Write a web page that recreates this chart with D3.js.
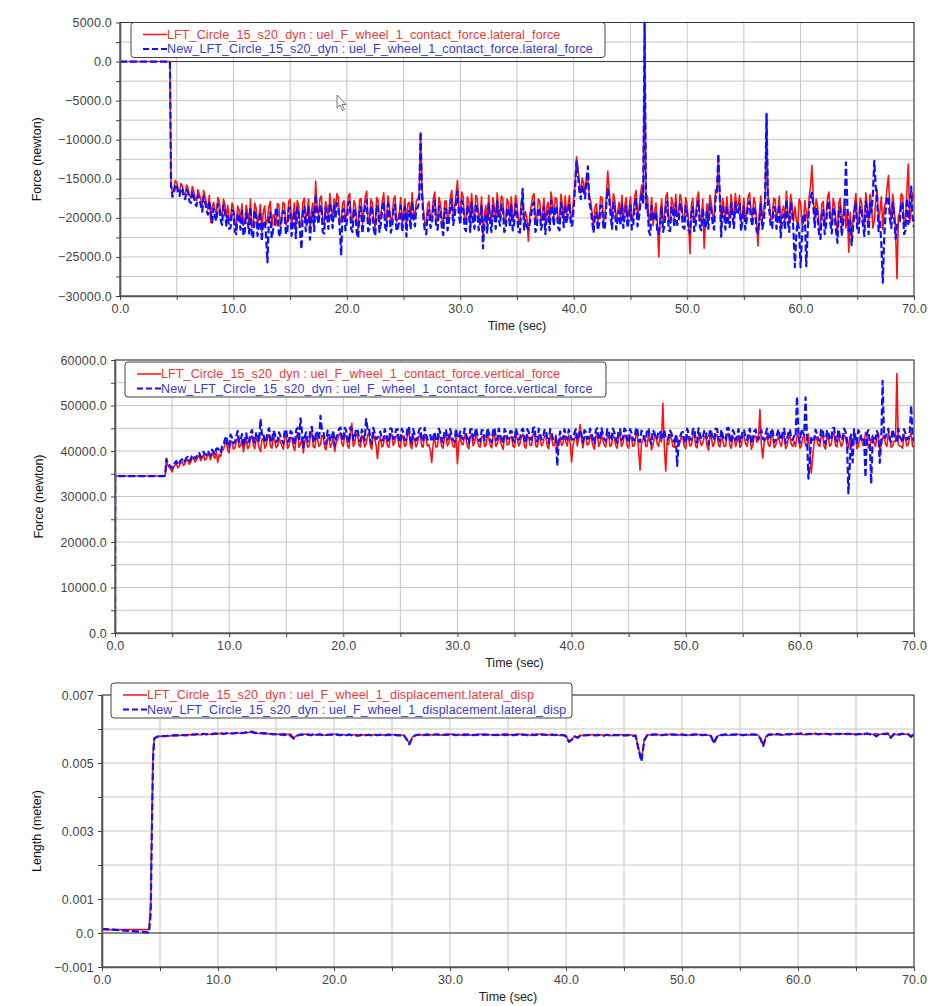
<!DOCTYPE html>
<html>
<head>
<meta charset="utf-8">
<script src="https://cdn.jsdelivr.net/npm/d3@7"></script>
<style>
  body { margin: 0; background: #fff; }
  svg { display: block; font-family: "Liberation Sans", Arial, sans-serif; }
</style>
</head>
<body>
<svg id="chart" width="935" height="1006"></svg>
<script>
// samples on a 0.25 s grid starting at 4.5 s (rows of 5 s),
// "Mid" arrays hold the readings half way between two grid samples
let sampleStart = 4.5, sampleStep = 0.25;

let timeMajor = [0, 10, 20, 30, 40, 50, 60, 70],
    timeMinor = [5, 15, 25, 35, 45, 55, 65];

// lateral force (kN)
let latPreTime = [0, 4.4],
    latPreRed = [0, 0],
    latPreBlue = [0, 0];
let latRed = [
  -15.6,-16.3,-15.5,-16.7,-15.9,-17.0,-16.2,-17.4,-16.6,-17.8,-17.0,-18.4,-17.3,-18.9,-20.6,-18.0,-19.5,-17.9,-19.8,-18.3,
  -18.4,-20.1,-18.7,-21.4,-19.0,-18.2,-20.6,-19.3,-17.6,-20.9,-18.8,-19.7,-21.8,-18.5,-20.2,-17.9,-19.6,-21.0,-18.3,-20.4,
  -18.2,-20.5,-17.6,-19.8,-21.2,-18.4,-20.9,-17.5,-19.3,-21.6,-18.1,-15.3,-19.7,-17.2,-20.8,-18.6,-16.9,-20.1,-18.8,-17.4,
  -20.6,-17.8,-19.4,-16.9,-20.7,-18.3,-21.5,-17.5,-19.0,-16.6,-20.3,-18.1,-21.2,-17.7,-19.6,-16.8,-20.5,-18.4,-19.9,-17.2,
  -20.2,-17.4,-19.1,-21.3,-18.0,-16.8,-20.0,-17.6,-9.1,-18.9,-21.0,-17.9,-19.6,-16.7,-20.4,-18.2,-21.1,-17.8,-19.4,-16.5,
  -18.7,-15.2,-19.8,-17.3,-20.6,-18.0,-16.9,-20.3,-17.6,-19.5,-22.5,-18.4,-17.1,-20.7,-18.6,-16.8,-19.9,-17.5,-20.4,-18.1,
  -17.3,-19.6,-18.2,-20.8,-17.0,-19.2,-23.0,-18.5,-16.9,-20.1,-17.8,-19.4,-21.0,-18.0,-16.7,-19.9,-17.6,-20.5,-18.3,-17.2,
  -18.3,-20.0,-17.5,-12.2,-15.6,-14.9,-16.8,-15.2,-17.9,-21.3,-18.2,-19.6,-17.4,-20.1,-14.0,-18.6,-16.9,-20.4,-18.0,-17.1,
  -18.5,-20.2,-17.3,-19.7,-16.5,-18.9,-15.8,5.0,-17.2,-19.5,-21.0,-18.1,-25.0,-17.6,-19.9,-16.8,-20.6,-18.2,-17.0,-19.4,
  -17.8,-20.3,-18.4,-24.6,-17.5,-19.8,-16.7,-20.5,-23.9,-18.2,-17.1,-19.6,-16.4,-12.5,-20.8,-18.6,-17.3,-20.1,-18.7,-16.9,
  -18.3,-20.6,-17.5,-19.2,-16.8,-20.0,-18.1,-23.6,-17.2,-19.4,-6.8,-18.0,-20.2,-17.6,-19.1,-21.4,-18.5,-16.6,-20.7,-18.2,
  -18.6,-21.0,-18.0,-20.7,-19.3,-17.4,-13.3,-20.1,-18.5,-21.6,-17.9,-19.8,-16.7,-20.9,-18.4,-22.1,-17.5,-19.7,-21.3,-24.4,
  -22.8,-18.4,-20.6,-17.5,-19.9,-16.8,-21.0,-18.2,-20.4,-16.4,-19.1,-21.5,-18.0,-14.6,-20.2,-18.7,-27.8,-19.4,-17.2,-20.5,
  -13.1,-19.0,-17.5
];
let latRedMid = [
  -16.8,-15.2,-16.4,-15.6,-16.9,-15.8,-17.2,-16.0,-17.5,-16.4,-17.6,-16.5,-18.2,-17.1,-18.6,-19.0,-17.4,-19.3,-17.6,-19.9,
  -20.3,-18.1,-20.6,-18.5,-20.4,-21.0,-18.4,-20.8,-21.2,-18.1,-21.0,-18.3,-19.4,-20.9,-18.6,-21.2,-19.8,-18.2,-21.1,-18.0,
  -20.9,-17.9,-21.0,-18.1,-17.8,-21.1,-18.0,-20.6,-17.6,-19.1,-20.4,-18.8,-17.5,-20.6,-17.9,-20.2,-18.7,-17.6,-16.9,-20.3,
  -18.1,-20.4,-17.2,-20.3,-17.8,-20.6,-17.7,-20.8,-17.3,-20.5,-17.6,-20.3,-17.4,-20.6,-17.8,-20.1,-17.2,-20.7,-17.6,-20.5,
  -19.3,-20.6,-17.6,-18.2,-20.3,-19.0,-17.8,-17.0,-16.0,-20.6,-18.3,-20.2,-17.5,-20.1,-17.4,-20.0,-17.9,-20.5,-17.3,-19.8,
  -17.0,-18.6,-16.7,-20.2,-17.3,-20.6,-19.4,-17.1,-20.5,-17.3,-19.6,-20.8,-19.3,-17.4,-20.3,-18.9,-17.2,-20.6,-17.6,-20.0,
  -20.4,-17.1,-20.5,-18.0,-20.4,-20.1,-19.6,-17.3,-20.6,-17.6,-20.4,-17.5,-18.6,-20.5,-18.1,-17.4,-20.2,-17.0,-20.1,-19.6,
  -17.1,-19.8,-15.4,-13.6,-16.8,-15.6,-14.8,-17.2,-19.4,-18.6,-20.5,-17.3,-20.4,-17.2,-16.4,-20.3,-17.8,-19.2,-19.9,-20.2,
  -17.4,-18.9,-20.4,-17.2,-20.0,-17.1,-17.4,-18.0,-20.6,-17.4,-19.2,-20.8,-19.5,-20.7,-17.3,-20.5,-17.4,-20.1,-19.8,-17.0,
  -20.1,-17.4,-20.5,-18.3,-20.6,-17.5,-20.1,-17.6,-20.2,-20.3,-18.0,-20.4,-16.8,-17.2,-17.5,-20.4,-19.5,-17.0,-20.2,-18.5,
  -17.1,-19.3,-20.4,-17.3,-19.0,-17.4,-20.6,-19.1,-20.3,-17.0,-17.2,-20.1,-17.5,-20.3,-17.2,-19.0,-20.4,-19.3,-17.0,-20.5,
  -20.2,-17.6,-20.9,-17.8,-20.5,-16.0,-17.5,-17.6,-21.0,-18.2,-21.0,-17.4,-19.6,-17.5,-20.6,-18.0,-21.2,-17.6,-19.0,-19.3,
  -20.1,-16.9,-20.8,-18.0,-21.2,-18.3,-17.0,-21.3,-17.8,-20.6,-17.3,-18.6,-16.2,-19.0,-17.0,-21.6,-19.7,-16.9,-21.0,-16.4,
  -20.6,-16.8
];
let latBlue = [
  -15.9,-16.8,-15.7,-17.2,-16.3,-17.6,-16.7,-18.1,-17.2,-18.5,-17.6,-19.2,-18.0,-19.6,-19.3,-18.8,-20.4,-18.7,-20.9,-19.2,
  -19.6,-21.3,-19.2,-22.1,-20.0,-19.1,-21.8,-20.2,-18.6,-22.4,-19.8,-20.9,-23.0,-20.4,-25.7,-19.3,-21.5,-18.7,-22.0,-19.9,
  -19.4,-21.8,-18.7,-20.9,-22.6,-19.5,-24.0,-18.6,-20.4,-22.8,-19.2,-17.0,-20.8,-18.4,-22.0,-19.7,-18.1,-21.3,-20.0,-18.6,
  -24.8,-18.9,-20.5,-17.9,-21.8,-19.4,-22.6,-18.6,-20.1,-17.7,-21.4,-19.2,-22.3,-18.8,-20.7,-17.9,-21.6,-19.5,-21.0,-18.3,
  -21.3,-18.5,-20.2,-22.4,-19.1,-17.9,-21.1,-18.7,-9.0,-20.0,-22.1,-19.0,-20.7,-17.8,-21.5,-19.3,-22.2,-18.9,-20.5,-17.6,
  -19.8,-16.6,-20.9,-18.4,-21.7,-19.1,-18.0,-21.4,-18.7,-20.6,-23.9,-19.5,-18.2,-21.8,-19.7,-17.9,-21.0,-18.6,-21.5,-19.2,
  -18.4,-20.7,-19.3,-21.9,-16.3,-20.3,-21.5,-19.6,-18.0,-21.2,-18.9,-20.5,-22.1,-19.1,-17.8,-21.0,-18.7,-21.6,-19.4,-18.3,
  -19.4,-21.1,-18.6,-12.8,-16.7,-15.8,-17.5,-13.4,-18.8,-21.9,-19.3,-20.7,-18.5,-21.2,-16.3,-19.7,-18.0,-21.5,-19.1,-18.2,
  -19.6,-21.3,-18.4,-20.8,-17.6,-20.0,-16.9,5.0,-18.3,-22.2,-20.1,-19.2,-22.0,-18.7,-21.0,-17.9,-21.7,-19.3,-18.1,-20.5,
  -18.9,-21.4,-19.5,-22.0,-18.6,-20.9,-17.8,-21.6,-20.5,-19.3,-18.2,-20.7,-17.5,-11.8,-22.4,-19.7,-18.4,-21.2,-19.8,-18.0,
  -19.4,-21.7,-18.6,-20.3,-17.9,-21.1,-19.2,-22.0,-18.3,-20.5,-6.7,-19.1,-21.3,-18.7,-20.2,-22.5,-19.6,-17.7,-21.8,-19.3,
  -26.3,-20.5,-26.3,-19.5,-26.2,-18.6,-16.8,-21.2,-19.6,-22.7,-19.0,-20.9,-17.8,-22.0,-19.5,-23.2,-18.6,-20.8,-12.9,-21.7,
  -23.5,-19.5,-21.7,-18.6,-21.0,-17.9,-22.1,-19.3,-12.7,-17.5,-20.2,-28.3,-19.1,-17.3,-21.3,-19.8,-20.9,-20.5,-18.3,-21.6,
  -20.8,-16.0,-21.2
];
let latBlueMid = [
  -17.3,-15.9,-16.9,-16.2,-17.5,-16.4,-17.9,-16.6,-18.2,-17.1,-18.4,-17.3,-19.0,-17.8,-20.6,-19.9,-18.2,-20.3,-18.4,-21.0,
  -21.4,-19.0,-21.7,-19.4,-21.5,-22.3,-19.4,-22.0,-22.6,-19.0,-22.3,-19.2,-20.5,-22.2,-20.1,-22.6,-20.8,-19.1,-22.4,-19.1,
  -22.1,-18.8,-22.3,-19.1,-18.7,-21.9,-19.2,-21.7,-18.5,-20.2,-21.7,-19.8,-18.6,-21.8,-18.7,-21.4,-19.6,-18.4,-18.1,-21.5,
  -19.0,-21.6,-18.1,-21.4,-18.8,-21.9,-18.6,-22.0,-18.2,-21.7,-18.5,-21.5,-18.4,-21.8,-18.7,-21.2,-18.2,-21.9,-18.6,-21.7,
  -20.4,-21.8,-18.6,-19.2,-21.5,-20.1,-18.8,-18.0,-17.0,-21.7,-19.4,-21.3,-18.6,-21.2,-18.5,-21.2,-18.8,-21.6,-18.4,-20.9,
  -18.1,-19.7,-17.8,-21.3,-18.4,-21.8,-20.5,-18.2,-21.6,-18.4,-20.7,-22.0,-20.4,-18.5,-21.4,-20.0,-18.3,-21.8,-18.7,-21.2,
  -21.6,-18.2,-21.7,-19.1,-21.5,-21.2,-20.7,-18.4,-21.8,-18.7,-21.5,-18.6,-19.7,-21.6,-19.2,-18.5,-21.3,-18.1,-21.2,-20.7,
  -18.2,-20.9,-16.0,-14.4,-17.6,-16.5,-15.2,-18.1,-20.5,-19.7,-21.6,-18.4,-21.5,-18.3,-17.5,-21.4,-18.9,-20.3,-21.0,-21.3,
  -18.5,-20.0,-21.5,-18.3,-21.1,-18.2,-18.3,-19.1,-21.7,-18.5,-20.3,-21.9,-20.6,-21.8,-18.4,-21.6,-18.5,-21.2,-20.9,-18.1,
  -21.2,-18.5,-21.6,-19.4,-21.7,-18.6,-21.2,-18.7,-21.3,-21.4,-19.1,-21.5,-16.5,-16.9,-18.6,-21.5,-20.6,-18.1,-21.3,-19.6,
  -18.2,-20.4,-21.5,-18.4,-20.1,-18.5,-21.7,-20.2,-21.4,-18.1,-18.3,-21.2,-18.6,-21.4,-18.3,-20.1,-21.5,-20.4,-18.1,-21.6,
  -22.0,-21.5,-22.4,-19.6,-21.8,-17.5,-18.6,-18.7,-22.1,-19.3,-22.1,-18.5,-20.7,-18.6,-21.7,-19.1,-22.3,-18.7,-18.4,-20.4,
  -21.2,-18.0,-21.9,-19.1,-22.3,-19.4,-18.1,-17.0,-16.0,-21.7,-23.5,-22.5,-17.3,-20.1,-18.1,-22.7,-20.8,-18.0,-22.1,-17.5,
  -18.4,-19.9
];
let latTicks = [5000, 0, -5000, -10000, -15000, -20000, -25000, -30000],
    latMinor = [2500, -2500, -7500, -12500, -17500, -22500, -27500];

// vertical force (kN)
let vertPreTime = [0, 0.02, 4.3, 4.4],
    vertPreRed = [0, 34.5, 34.5, 34.6],
    vertPreBlue = [0, 34.5, 34.5, 34.7];
let vertRed = [
  38.0,36.4,35.4,36.9,36.3,37.4,36.8,37.9,37.1,38.3,37.6,38.7,37.9,39.2,38.3,38.9,39.6,38.4,37.5,38.8,
  40.3,42.1,39.6,41.8,40.7,43.0,41.2,39.8,42.6,41.0,43.4,40.5,42.2,39.9,42.8,41.3,43.6,40.6,42.4,41.1,
  42.0,40.4,43.5,41.2,42.8,40.1,43.9,41.5,39.6,42.9,41.0,44.1,40.7,42.5,41.4,43.2,40.3,42.7,41.6,39.9,
  42.4,44.1,41.0,43.3,40.6,46.1,41.8,43.5,40.9,42.7,41.5,44.0,40.4,42.8,38.3,43.1,41.2,42.6,40.8,43.7,
  41.9,43.6,40.7,42.9,41.3,44.2,40.5,42.4,41.7,43.8,40.9,42.6,41.4,37.5,43.0,41.1,42.8,40.6,43.4,41.8,
  42.2,40.8,37.2,43.1,41.4,42.7,40.5,43.6,41.9,42.4,40.9,43.3,41.2,42.8,40.7,43.9,41.6,42.3,40.4,43.0,
  41.5,43.2,40.8,42.6,41.9,43.7,40.6,42.9,41.3,44.0,40.9,42.4,41.7,43.5,40.5,42.8,41.2,40.3,43.1,41.6,
  42.0,43.5,37.6,42.8,41.1,45.8,40.7,43.0,41.5,42.6,40.4,43.8,41.8,42.3,40.9,43.4,41.3,42.9,40.6,43.6,
  41.7,43.3,40.6,42.8,41.2,44.0,35.8,42.5,41.0,43.6,40.3,42.9,41.6,43.1,50.5,35.6,41.4,42.7,40.8,43.2,
  41.9,43.0,40.5,42.6,41.3,43.8,40.7,42.4,41.8,43.3,40.2,42.9,41.5,43.6,40.9,42.2,41.1,43.9,40.6,42.7,
  42.3,40.8,43.5,41.6,42.9,40.4,43.2,41.9,49.1,38.5,42.6,41.3,43.7,40.7,42.4,41.8,43.0,40.5,42.8,41.4,
  42.1,43.4,40.6,42.9,41.2,43.7,35.2,41.8,42.5,41.0,43.3,40.4,42.7,41.5,43.9,40.9,42.2,41.6,43.1,40.7,
  42.0,43.6,40.5,42.8,41.3,44.1,40.7,42.4,41.8,43.2,40.3,42.9,41.5,43.7,40.8,42.2,57.0,41.1,40.6,42.7,
  41.5,43.8,40.9
];
let vertRedMid = [
  36.8,36.0,36.5,37.2,36.7,37.6,37.2,38.1,37.5,38.5,37.9,38.9,38.4,38.0,39.4,38.1,39.0,39.7,39.2,40.1,
  41.5,40.2,42.3,40.4,42.1,40.8,42.5,41.4,40.5,42.7,41.2,42.8,40.7,42.6,40.6,42.9,41.0,43.1,40.7,42.8,
  41.1,43.2,40.6,43.0,40.9,43.1,40.8,43.0,42.2,40.8,43.3,40.9,43.0,41.0,43.4,40.7,43.0,40.8,43.2,41.8,
  43.5,41.6,43.7,41.2,43.9,41.0,43.6,41.3,43.4,40.9,43.5,41.1,43.9,41.2,42.0,40.9,43.4,41.1,43.6,41.2,
  43.3,41.1,43.5,41.0,43.6,41.2,43.4,40.9,43.2,41.0,43.7,41.1,40.2,41.6,40.8,43.5,41.0,43.2,41.1,43.4,
  41.0,43.6,41.8,41.5,43.5,41.0,43.3,41.1,43.7,41.0,43.2,41.0,43.6,41.2,43.1,41.0,43.5,41.2,43.4,41.3,
  43.0,41.0,43.6,41.1,43.2,41.0,43.4,41.2,43.6,41.0,43.5,41.1,43.2,41.0,43.4,41.2,43.5,42.0,41.2,43.4,
  41.1,41.8,41.2,43.4,42.9,42.4,43.2,41.3,43.5,41.1,43.2,41.0,43.6,41.2,43.4,41.0,43.5,41.2,43.3,41.0,
  43.5,41.1,43.4,41.0,43.2,40.2,41.6,43.3,41.1,43.0,41.2,43.5,41.0,42.0,41.0,42.0,43.6,41.0,43.4,41.1,
  43.2,41.0,43.5,41.1,43.3,41.0,43.6,41.2,43.1,41.0,43.4,41.0,43.5,41.2,43.3,41.0,43.6,41.2,43.2,41.0,
  43.4,41.2,43.1,41.0,43.5,41.2,43.3,42.8,41.5,42.0,43.2,41.0,43.4,41.2,43.1,41.0,43.5,41.2,43.4,41.0,
  41.0,43.5,41.1,43.4,41.0,39.8,38.8,43.3,41.2,43.5,41.0,43.2,41.0,43.6,41.2,43.4,41.0,43.5,41.1,43.2,
  41.1,43.4,41.0,43.6,41.2,43.3,41.1,43.5,41.0,43.4,41.2,43.5,41.0,43.3,41.1,42.1,41.4,41.0,43.5,41.1,
  43.2,41.0
];
let vertBlue = [
  38.3,36.9,36.2,37.4,36.9,37.9,37.4,38.5,37.8,38.9,38.3,39.4,38.6,39.8,39.1,39.5,40.3,39.2,40.6,39.6,
  41.2,43.3,40.8,42.9,41.9,44.4,42.3,41.0,43.9,42.2,44.6,41.8,43.5,47.0,44.0,42.5,45.0,41.9,43.8,42.4,
  43.2,41.6,44.7,42.4,44.0,41.3,45.1,47.2,40.8,44.1,42.2,45.3,41.9,43.7,47.7,44.4,41.5,43.9,42.8,41.1,
  43.6,45.2,42.2,44.5,41.8,44.9,43.0,44.7,42.1,43.9,47.0,45.2,41.6,44.0,42.9,44.3,42.4,43.8,41.9,44.8,
  43.0,44.8,41.9,44.1,42.5,45.4,41.7,43.6,42.9,45.0,42.1,43.8,42.6,42.0,44.2,42.3,44.0,41.8,44.6,43.0,
  43.4,42.0,42.8,44.3,42.6,43.9,41.7,44.8,43.1,43.6,42.1,44.5,42.4,44.0,41.9,45.1,42.8,43.5,41.6,44.2,
  42.7,44.4,42.0,43.8,43.1,44.9,41.8,44.1,42.5,45.2,42.1,43.6,42.9,44.7,41.7,44.0,42.4,36.7,44.3,42.8,
  43.2,44.7,42.5,44.0,42.3,44.6,41.9,44.2,42.7,43.8,41.6,45.0,43.0,43.5,42.1,44.6,42.5,44.1,41.8,44.8,
  42.9,44.5,41.8,44.0,42.4,45.2,42.0,43.7,42.2,44.8,41.5,44.1,42.8,44.3,43.2,42.6,43.0,43.9,42.0,36.7,
  43.1,44.2,41.7,43.8,42.5,45.0,41.9,43.6,43.0,44.5,41.4,44.1,42.7,44.8,42.1,43.4,42.3,45.1,41.8,43.9,
  43.5,42.0,44.7,42.8,44.1,41.6,44.4,43.1,43.9,42.7,43.8,42.5,44.9,41.9,43.6,43.0,44.2,41.7,44.0,42.6,
  43.3,52.0,41.8,44.1,51.8,33.9,43.2,42.6,43.7,42.2,44.5,41.6,43.9,42.7,45.1,42.1,43.4,42.8,44.3,30.7,
  43.6,44.8,41.7,44.0,42.5,34.2,44.6,32.8,43.4,44.4,37.4,55.4,42.9,44.9,42.0,43.4,42.3,43.1,41.8,43.9,
  42.7,50.0,42.1
];
let vertBlueMid = [
  37.3,36.6,37.1,37.8,37.3,38.2,37.8,38.7,38.2,39.1,38.6,39.6,39.1,39.3,40.0,39.0,39.8,40.5,40.1,41.0,
  42.5,41.3,43.6,41.7,43.3,42.0,43.7,42.6,41.9,43.9,42.4,44.1,42.0,43.6,41.8,44.2,42.3,44.5,42.0,44.1,
  42.4,44.6,42.0,44.4,42.3,44.6,42.2,44.3,43.2,42.1,44.8,42.3,44.4,42.4,44.6,42.1,44.5,42.2,44.6,42.9,
  44.8,42.9,45.1,42.6,45.2,42.4,44.9,42.7,44.7,42.3,44.9,42.4,45.1,42.6,43.4,42.3,44.8,42.5,45.0,42.6,
  44.7,42.5,44.9,42.4,45.0,42.6,44.8,42.3,44.5,42.4,45.1,42.5,43.5,43.0,42.2,44.9,42.4,44.6,42.5,44.8,
  42.4,45.0,43.1,42.9,44.9,42.4,44.7,42.5,45.1,42.4,44.6,42.4,45.0,42.6,44.5,42.4,44.9,42.6,44.8,42.7,
  44.4,42.4,45.0,42.5,44.6,42.4,44.8,42.6,45.0,42.4,44.9,42.5,44.6,42.4,44.8,42.6,43.0,42.2,42.6,44.8,
  42.5,43.8,42.6,44.8,43.2,43.6,44.6,42.7,44.9,42.5,44.6,42.4,45.0,42.6,44.8,42.4,44.9,42.6,44.7,42.4,
  44.9,42.5,44.8,42.4,44.6,42.2,44.5,42.6,44.9,42.4,44.6,42.6,44.4,42.5,44.7,42.4,44.5,42.6,43.5,42.0,
  44.0,42.4,44.9,42.5,44.7,42.4,45.0,42.6,44.5,42.4,44.8,42.4,44.9,42.6,44.7,42.4,45.0,42.6,44.6,42.4,
  44.8,42.6,44.5,42.4,44.9,42.6,44.7,42.5,44.6,42.4,44.9,42.6,44.4,42.5,44.8,42.4,44.9,42.6,44.8,42.4,
  43.0,43.5,44.8,43.5,43.0,38.0,42.4,44.7,42.5,44.9,42.4,44.6,42.4,45.0,42.6,44.8,42.4,44.9,42.6,37.0,
  37.5,42.4,44.6,42.5,43.0,43.8,42.0,42.5,42.6,43.5,42.0,43.0,44.1,42.6,44.8,42.4,44.9,42.6,44.8,42.5,
  44.0,43.0
];
let vertTicks = [60000, 50000, 40000, 30000, 20000, 10000, 0],
    vertMinor = [55000, 45000, 35000, 25000, 15000, 5000];

// lateral displacement (mm)
let dispPreTime = [0, 2.0, 3.9, 4.05, 4.2, 4.3, 4.4],
    dispPreRed = [0.10, 0.10, 0.10, 0.11, 0.9, 3.4, 5.3],
    dispPreBlue = [0.12, 0.07, 0.02, 0.00, 0.6, 3.0, 5.1];
let dispRed = [
  5.70,5.78,5.79,5.78,5.80,5.79,5.81,5.80,5.82,5.81,5.83,5.82,5.84,5.82,5.85,5.84,5.83,5.85,5.86,5.84,
  5.86,5.85,5.87,5.86,5.85,5.88,5.87,5.86,5.89,5.88,5.87,5.90,5.88,5.91,5.93,5.89,5.87,5.88,5.86,5.87,
  5.85,5.86,5.84,5.85,5.83,5.86,5.84,5.85,5.74,5.80,5.84,5.82,5.85,5.83,5.81,5.84,5.82,5.85,5.83,5.82,
  5.84,5.82,5.85,5.83,5.81,5.84,5.82,5.83,5.81,5.84,5.82,5.80,5.83,5.81,5.84,5.82,5.83,5.81,5.84,5.82,
  5.83,5.81,5.84,5.82,5.80,5.83,5.81,5.72,5.57,5.76,5.82,5.84,5.82,5.83,5.81,5.84,5.82,5.85,5.83,5.82,
  5.84,5.82,5.85,5.83,5.81,5.84,5.82,5.85,5.83,5.82,5.84,5.81,5.83,5.85,5.82,5.84,5.83,5.81,5.84,5.82,
  5.83,5.85,5.82,5.84,5.81,5.83,5.85,5.82,5.84,5.83,5.81,5.84,5.82,5.85,5.83,5.82,5.84,5.81,5.83,5.82,
  5.81,5.83,5.80,5.64,5.70,5.79,5.76,5.82,5.80,5.83,5.81,5.84,5.82,5.80,5.83,5.81,5.84,5.82,5.80,5.83,
  5.81,5.84,5.82,5.80,5.83,5.81,5.82,5.45,5.10,5.70,5.81,5.84,5.82,5.85,5.83,5.81,5.84,5.82,5.85,5.83,
  5.84,5.82,5.85,5.83,5.81,5.84,5.82,5.85,5.83,5.81,5.84,5.82,5.80,5.60,5.78,5.82,5.84,5.83,5.81,5.84,
  5.82,5.85,5.83,5.81,5.84,5.82,5.85,5.83,5.84,5.74,5.52,5.79,5.82,5.85,5.83,5.86,5.84,5.82,5.85,5.83,
  5.86,5.84,5.87,5.85,5.83,5.86,5.84,5.87,5.85,5.86,5.84,5.87,5.85,5.83,5.86,5.84,5.87,5.85,5.86,5.84,
  5.87,5.85,5.83,5.86,5.84,5.87,5.85,5.86,5.84,5.86,5.84,5.85,5.87,5.85,5.76,5.86,5.83,5.85,5.87,5.84,
  5.86,5.75,5.85
];
let dispBlue = [
  5.72,5.77,5.80,5.79,5.79,5.81,5.80,5.82,5.81,5.83,5.82,5.81,5.83,5.84,5.83,5.85,5.84,5.86,5.84,5.85,
  5.85,5.87,5.86,5.88,5.86,5.87,5.89,5.87,5.88,5.90,5.89,5.88,5.91,5.93,5.90,5.88,5.89,5.87,5.88,5.86,
  5.86,5.84,5.85,5.83,5.84,5.82,5.85,5.80,5.72,5.78,5.83,5.84,5.82,5.84,5.82,5.85,5.83,5.84,5.82,5.83,
  5.83,5.84,5.82,5.84,5.82,5.83,5.81,5.84,5.82,5.83,5.80,5.82,5.84,5.82,5.83,5.81,5.84,5.82,5.83,5.81,
  5.82,5.84,5.81,5.83,5.82,5.81,5.84,5.70,5.55,5.74,5.81,5.83,5.84,5.82,5.84,5.82,5.84,5.83,5.84,5.81,
  5.83,5.84,5.82,5.84,5.82,5.83,5.84,5.82,5.84,5.83,5.82,5.83,5.84,5.82,5.84,5.83,5.82,5.83,5.82,5.84,
  5.84,5.82,5.84,5.83,5.82,5.84,5.82,5.84,5.83,5.81,5.84,5.82,5.84,5.82,5.84,5.83,5.81,5.84,5.82,5.83,
  5.82,5.82,5.79,5.62,5.68,5.78,5.74,5.81,5.82,5.81,5.83,5.82,5.81,5.83,5.82,5.80,5.83,5.81,5.83,5.82,
  5.82,5.83,5.81,5.82,5.82,5.80,5.80,5.40,5.05,5.66,5.82,5.82,5.84,5.83,5.84,5.82,5.83,5.84,5.83,5.84,
  5.83,5.84,5.83,5.82,5.83,5.82,5.84,5.83,5.84,5.82,5.83,5.81,5.79,5.58,5.76,5.83,5.82,5.84,5.82,5.83,
  5.84,5.83,5.84,5.82,5.83,5.84,5.83,5.84,5.82,5.72,5.50,5.77,5.84,5.83,5.84,5.85,5.83,5.84,5.84,5.85,
  5.85,5.86,5.85,5.87,5.85,5.84,5.86,5.85,5.87,5.84,5.86,5.85,5.86,5.85,5.84,5.86,5.85,5.86,5.85,5.86,
  5.85,5.87,5.84,5.85,5.86,5.85,5.87,5.84,5.86,5.78,5.85,5.86,5.85,5.87,5.74,5.84,5.86,5.83,5.86,5.85,
  5.84,5.78,5.86
];
let dispTicks = [0.007, 0.005, 0.003, 0.001, 0, -0.001],
    dispMinor = [0.006, 0.004, 0.002];

let RED = "#ff1010", BLUE = "#1010ff";

function series(preTime, pre, values, mids, unit) {
    let pts = preTime.map((t, i) => [t, pre[i] * unit])
    values.forEach((v, i) => {
        let t = sampleStart + i * sampleStep
        pts.push([t, v * unit])
        if (mids && i < mids.length) pts.push([t + sampleStep / 2, mids[i] * unit])
    })
    return pts
}

function drawPanel(svg, p) {
    let x = d3.scaleLinear([0, 70], [p.left, p.right]),
        y = d3.scaleLinear(p.yDomain, [p.bottom, p.top]);
    let g = svg.append('g')

    // grid
    g.append('g')
        .selectAll('line')
        .data(timeMajor.concat(timeMinor))
        .join('line')
        .attr('x1', d=>x(d)).attr('x2', d=>x(d))
        .attr('y1', p.top).attr('y2', p.bottom)
        .attr('stroke', '#c6c6c6')
    g.append('g')
        .selectAll('line')
        .data(p.yTicks.concat(p.yMinor))
        .join('line')
        .attr('x1', p.left).attr('x2', p.right)
        .attr('y1', d=>y(d)).attr('y2', d=>y(d))
        .attr('stroke', '#c6c6c6')
    if (p.yDomain[0] < 0) {
        g.append('line')
            .attr('x1', p.left).attr('x2', p.right)
            .attr('y1', y(0)).attr('y2', y(0))
            .attr('stroke', '#333')
    }
    g.append('rect')
        .attr('x', p.left).attr('y', p.top)
        .attr('width', p.right - p.left).attr('height', p.bottom - p.top)
        .attr('fill', 'none').attr('stroke', '#333')

    // curves
    let clipId = 'clip-' + p.id
    svg.append('clipPath').attr('id', clipId)
        .append('rect')
        .attr('x', p.left).attr('y', p.top - 1)
        .attr('width', p.right - p.left).attr('height', p.bottom - p.top + 1)
    let line = d3.line().x(d=>x(d[0])).y(d=>y(d[1]))
    let lines = g.append('g').attr('clip-path', `url(#${clipId})`)
    lines.append('path')
        .attr('d', line(p.red))
        .attr('fill', 'none').attr('stroke', RED)
        .attr('stroke-width', 1.6).attr('stroke-linejoin', 'round')
    lines.append('path')
        .attr('d', line(p.blue))
        .attr('fill', 'none').attr('stroke', BLUE)
        .attr('stroke-width', 2.2).attr('stroke-linejoin', 'round')
        .attr('stroke-dasharray', '7,3')

    // axes
    let labelled = new Set(p.yTicks)
    let ay = g.append('g')
        .attr('transform', `translate(${p.left},0)`)
        .call(d3.axisLeft(y)
            .tickValues(p.yTicks.concat(p.yMinor))
            .tickSize(4).tickSizeOuter(0).tickPadding(4)
            .tickFormat(d=>labelled.has(d) ? p.yFormat(d) : ''))
    let ax = g.append('g')
        .attr('transform', `translate(0,${p.bottom})`)
        .call(d3.axisBottom(x)
            .tickValues(timeMajor.concat(timeMinor))
            .tickSize(4).tickSizeOuter(0).tickPadding(4)
            .tickFormat(d=>timeMajor.includes(d) ? d3.format('.1f')(d) : ''))
    ;[ax, ay].forEach(a => {
        a.attr('font-family', null).attr('font-size', 12.5)
        a.select('.domain').attr('stroke', '#555').attr('stroke-width', 1.6)
        a.selectAll('.tick line').attr('stroke', '#444')
        a.selectAll('.tick text').attr('fill', '#444').attr('letter-spacing', 0.2)
    })

    g.append('text')
        .attr('transform', `translate(${p.yLabelX},${(p.top + p.bottom) / 2}) rotate(-90)`)
        .attr('text-anchor', 'middle').attr('dy', '0.35em')
        .attr('font-size', 12.5).attr('fill', '#111')
        .text(p.yLabel)
    g.append('text')
        .attr('x', (p.left + p.right) / 2).attr('y', p.bottom + 34)
        .attr('text-anchor', 'middle')
        .attr('font-size', 12.5).attr('fill', '#222')
        .text('Time (sec)')

    // legend
    let L = p.legend
    let lg = g.append('g')
    lg.append('rect')
        .attr('x', L.x).attr('y', L.y)
        .attr('width', L.w).attr('height', 35).attr('rx', 3)
        .attr('fill', '#fff').attr('stroke', '#444')
    let rows = [
        {color: RED, text: L.texts[0], dash: null, width: 1.5},
        {color: BLUE, text: L.texts[1], dash: '6,3', width: 2}
    ]
    lg.selectAll('g.row')
        .data(rows)
        .join('g')
        .attr('class', 'row')
        .attr('transform', (d, i) => `translate(${L.x + 12},${L.y + 12 + i * 14.5})`)
        .each(function(d) {
            let r = d3.select(this)
            r.append('line')
                .attr('x1', 0).attr('x2', 24)
                .attr('stroke', d.color).attr('stroke-width', d.width)
                .attr('stroke-dasharray', d.dash)
            r.append('text')
                .attr('x', 24).attr('dy', '0.35em')
                .attr('font-size', 12.5).attr('letter-spacing', 0.12)
                .attr('fill', d.color === RED ? '#e83a3a' : '#3a3acc')
                .text(d.text)
        })
}

let svg = d3.select('#chart')

drawPanel(svg, {
    id: 'lat', left: 120, right: 914, top: 22.5, bottom: 296,
    yDomain: [-30000, 5000], yTicks: latTicks, yMinor: latMinor,
    yFormat: d3.format('.1f'), yLabel: 'Force (newton)', yLabelX: 37,
    red: series(latPreTime, latPreRed, latRed, latRedMid, 1000),
    blue: series(latPreTime, latPreBlue, latBlue, latBlueMid, 1000),
    legend: {x: 131, y: 22.5, w: 474, texts: [
        'LFT_Circle_15_s20_dyn : uel_F_wheel_1_contact_force.lateral_force',
        'New_LFT_Circle_15_s20_dyn : uel_F_wheel_1_contact_force.lateral_force']}
})

drawPanel(svg, {
    id: 'vert', left: 115, right: 914, top: 360, bottom: 633,
    yDomain: [0, 60000], yTicks: vertTicks, yMinor: vertMinor,
    yFormat: d3.format('.1f'), yLabel: 'Force (newton)', yLabelX: 39,
    red: series(vertPreTime, vertPreRed, vertRed, vertRedMid, 1000),
    blue: series(vertPreTime, vertPreBlue, vertBlue, vertBlueMid, 1000),
    legend: {x: 125, y: 362, w: 481, texts: [
        'LFT_Circle_15_s20_dyn : uel_F_wheel_1_contact_force.vertical_force',
        'New_LFT_Circle_15_s20_dyn : uel_F_wheel_1_contact_force.vertical_force']}
})

drawPanel(svg, {
    id: 'disp', left: 102, right: 914, top: 695, bottom: 967,
    yDomain: [-0.001, 0.007], yTicks: dispTicks, yMinor: dispMinor,
    yFormat: d => d === 0 ? '0.0' : d3.format('.3f')(d), yLabel: 'Length (meter)', yLabelX: 37,
    red: series(dispPreTime, dispPreRed, dispRed, null, 0.001),
    blue: series(dispPreTime, dispPreBlue, dispBlue, null, 0.001),
    legend: {x: 111, y: 683, w: 461, texts: [
        'LFT_Circle_15_s20_dyn : uel_F_wheel_1_displacement.lateral_disp',
        'New_LFT_Circle_15_s20_dyn : uel_F_wheel_1_displacement.lateral_disp']}
})

// mouse pointer left on the screen capture
svg.append('path')
    .attr('d', 'M337,95 L337,108 L340,105 L342.5,110.5 L344.5,109.5 L342,104.5 L346,104.5 Z')
    .attr('fill', '#fff').attr('stroke', '#555').attr('stroke-width', 0.8)
</script>
</body>
</html>
